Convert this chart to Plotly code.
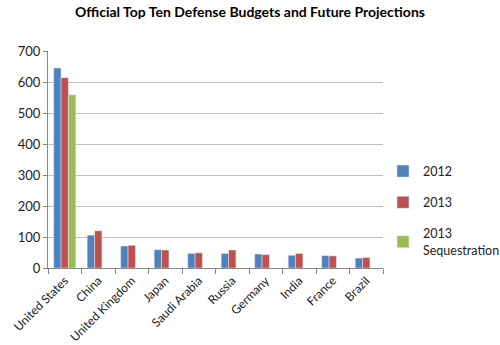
import plotly.graph_objects as go

countries = ["United States", "China", "United Kingdom", "Japan", "Saudi Arabia",
             "Russia", "Germany", "India", "France", "Brazil"]
budget_2012 = [645, 106, 71, 59, 47, 47, 45, 41, 40, 32]
budget_2013 = [614, 120, 73, 58, 49, 58, 43, 47, 39, 34]
sequestration_2013 = [559, None, None, None, None, None, None, None, None, None]
y_ticks = [0, 100, 200, 300, 400, 500, 600, 700]

font_family = "Lato, 'Open Sans', sans-serif"

fig = go.Figure()
fig.add_trace(go.Bar(x=countries, y=budget_2012, name="2012", marker_color="#4F81BD",
                     legendgroup="a"))
fig.add_trace(go.Bar(x=countries, y=budget_2013, name="2013", marker_color="#C0504D",
                     legendgroup="b"))
fig.add_trace(go.Bar(x=countries, y=sequestration_2013, name="2013<br>Sequestration",
                     marker_color="#9BBB59", legendgroup="c"))

fig.update_layout(
    width=500, height=345,
    barmode="group", bargap=0.34, bargroupgap=0,
    paper_bgcolor="white", plot_bgcolor="white",
    margin=dict(l=48, r=117, t=51, b=77, autoexpand=False),
    font=dict(family=font_family, size=12, color="#222222"),
    title=dict(text="<b>Official Top Ten Defense Budgets and Future Projections</b>",
               x=0.5, xanchor="center", y=0.965, yanchor="middle",
               font=dict(size=14, color="#000000", family=font_family)),
    legend=dict(xref="container", yref="container", x=0.766, xanchor="left",
                y=0.39, yanchor="middle",
                font=dict(size=12.5), itemwidth=30, tracegroupgap=12,
                bgcolor="rgba(0,0,0,0)"),
    showlegend=True,
)
fig.update_xaxes(
    tickangle=-45, showline=True, linecolor="#888888", linewidth=1,
    ticks="outside", tickson="boundaries", ticklen=5, tickcolor="#888888",
    showgrid=False, tickfont=dict(size=12), automargin=False,
)
fig.update_yaxes(
    range=[0, 700], tickvals=y_ticks, showline=True, linecolor="#888888", linewidth=1,
    ticks="outside", ticklen=4, tickcolor="#888888",
    showgrid=True, gridcolor="#BFBFBF", gridwidth=1, zeroline=False,
    tickfont=dict(size=13), automargin=False,
)

fig.write_html("out.html")
